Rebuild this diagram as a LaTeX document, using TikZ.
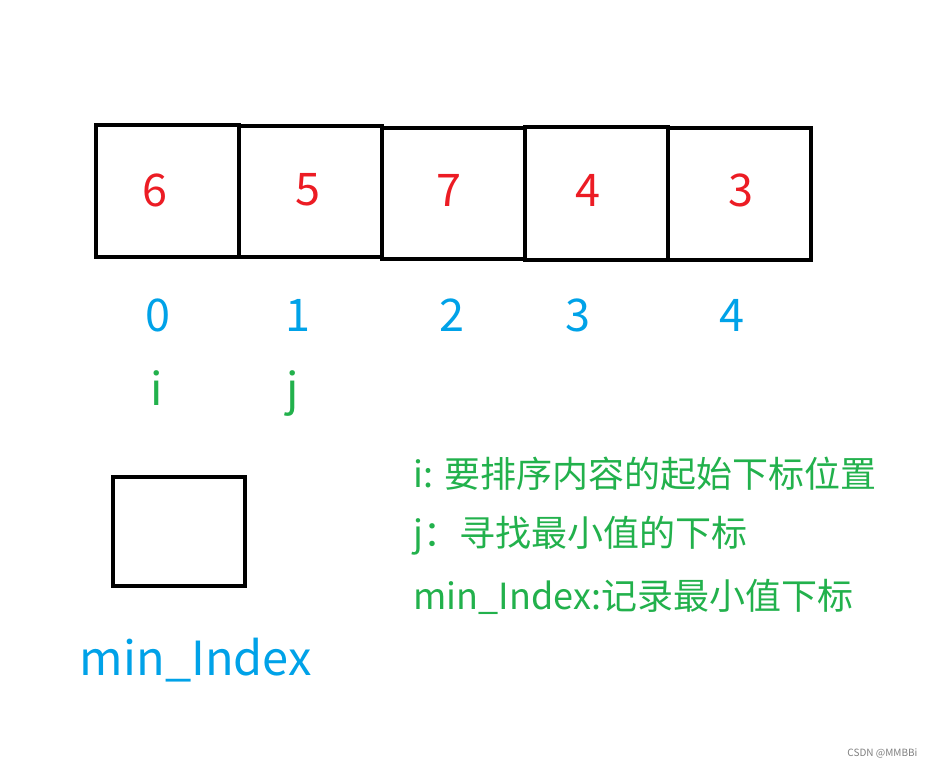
\documentclass[tikz,border=0pt]{standalone}
\usepackage{fontspec}
\setmainfont{Noto Sans CJK SC}
\definecolor{cred}{HTML}{EC1C24}
\definecolor{cblue}{HTML}{00A2E8}
\definecolor{cgreen}{HTML}{22B14C}
\tikzset{cell/.style={draw=black,line width=4.5pt},
 val/.style={text=cred,font=\fontsize{45}{48}\selectfont},
 idx/.style={text=cblue,font=\fontsize{45}{48}\selectfont},
 ptr/.style={text=cgreen,font=\fontsize{45}{48}\selectfont},
 note/.style={text=cgreen,font=\fontsize{36}{40}\selectfont,anchor=west}}
\begin{document}
\begin{tikzpicture}[x=1pt,y=-1pt]
\useasboundingbox[fill=white] (0,0) rectangle (935,768);
\draw[cell] (96,125) rectangle (239,257) coordinate (c0);
\draw[cell] (239,126) rectangle (382,257) coordinate (c1);
\draw[cell] (382,128) rectangle (525,259) coordinate (c2);
\draw[cell] (525,127) rectangle (668,260) coordinate (c3);
\draw[cell] (668,128) rectangle (811,260) coordinate (c4);
\node[val] (v0) at (155,190) {6};
\node[val] (v1) at (308,190) {5};
\node[val] (v2) at (449,190) {7};
\node[val] (v3) at (588,190) {4};
\node[val] (v4) at (741,190) {3};
\node[idx] (i0) at (158,315) {0};
\node[idx] (i1) at (298,315) {1};
\node[idx] (i2) at (452,315) {2};
\node[idx] (i3) at (578,315) {3};
\node[idx] (i4) at (732,315) {4};
\node[ptr,anchor=base] (pi) at (157,405) {i};
\node[ptr,anchor=base] (pj) at (293,405) {j};
\draw[cell] (113,477) rectangle (245,586) coordinate (mb);
\node[idx,font=\fontsize{47}{50}\selectfont] (ml) at (196,660) {min\_Index};
\node[note] (n1) at (410,474) {i: 要排序内容的起始下标位置};
\node[note] (n2) at (410,536) {j：寻找最小值的下标};
\node[note] (n3) at (410,597) {min\_Index:记录最小值下标};
\node[text=gray,font=\fontsize{10}{12}\selectfont,anchor=east] (wm) at (921,753) {CSDN @MMBBi};
\end{tikzpicture}
\end{document}
